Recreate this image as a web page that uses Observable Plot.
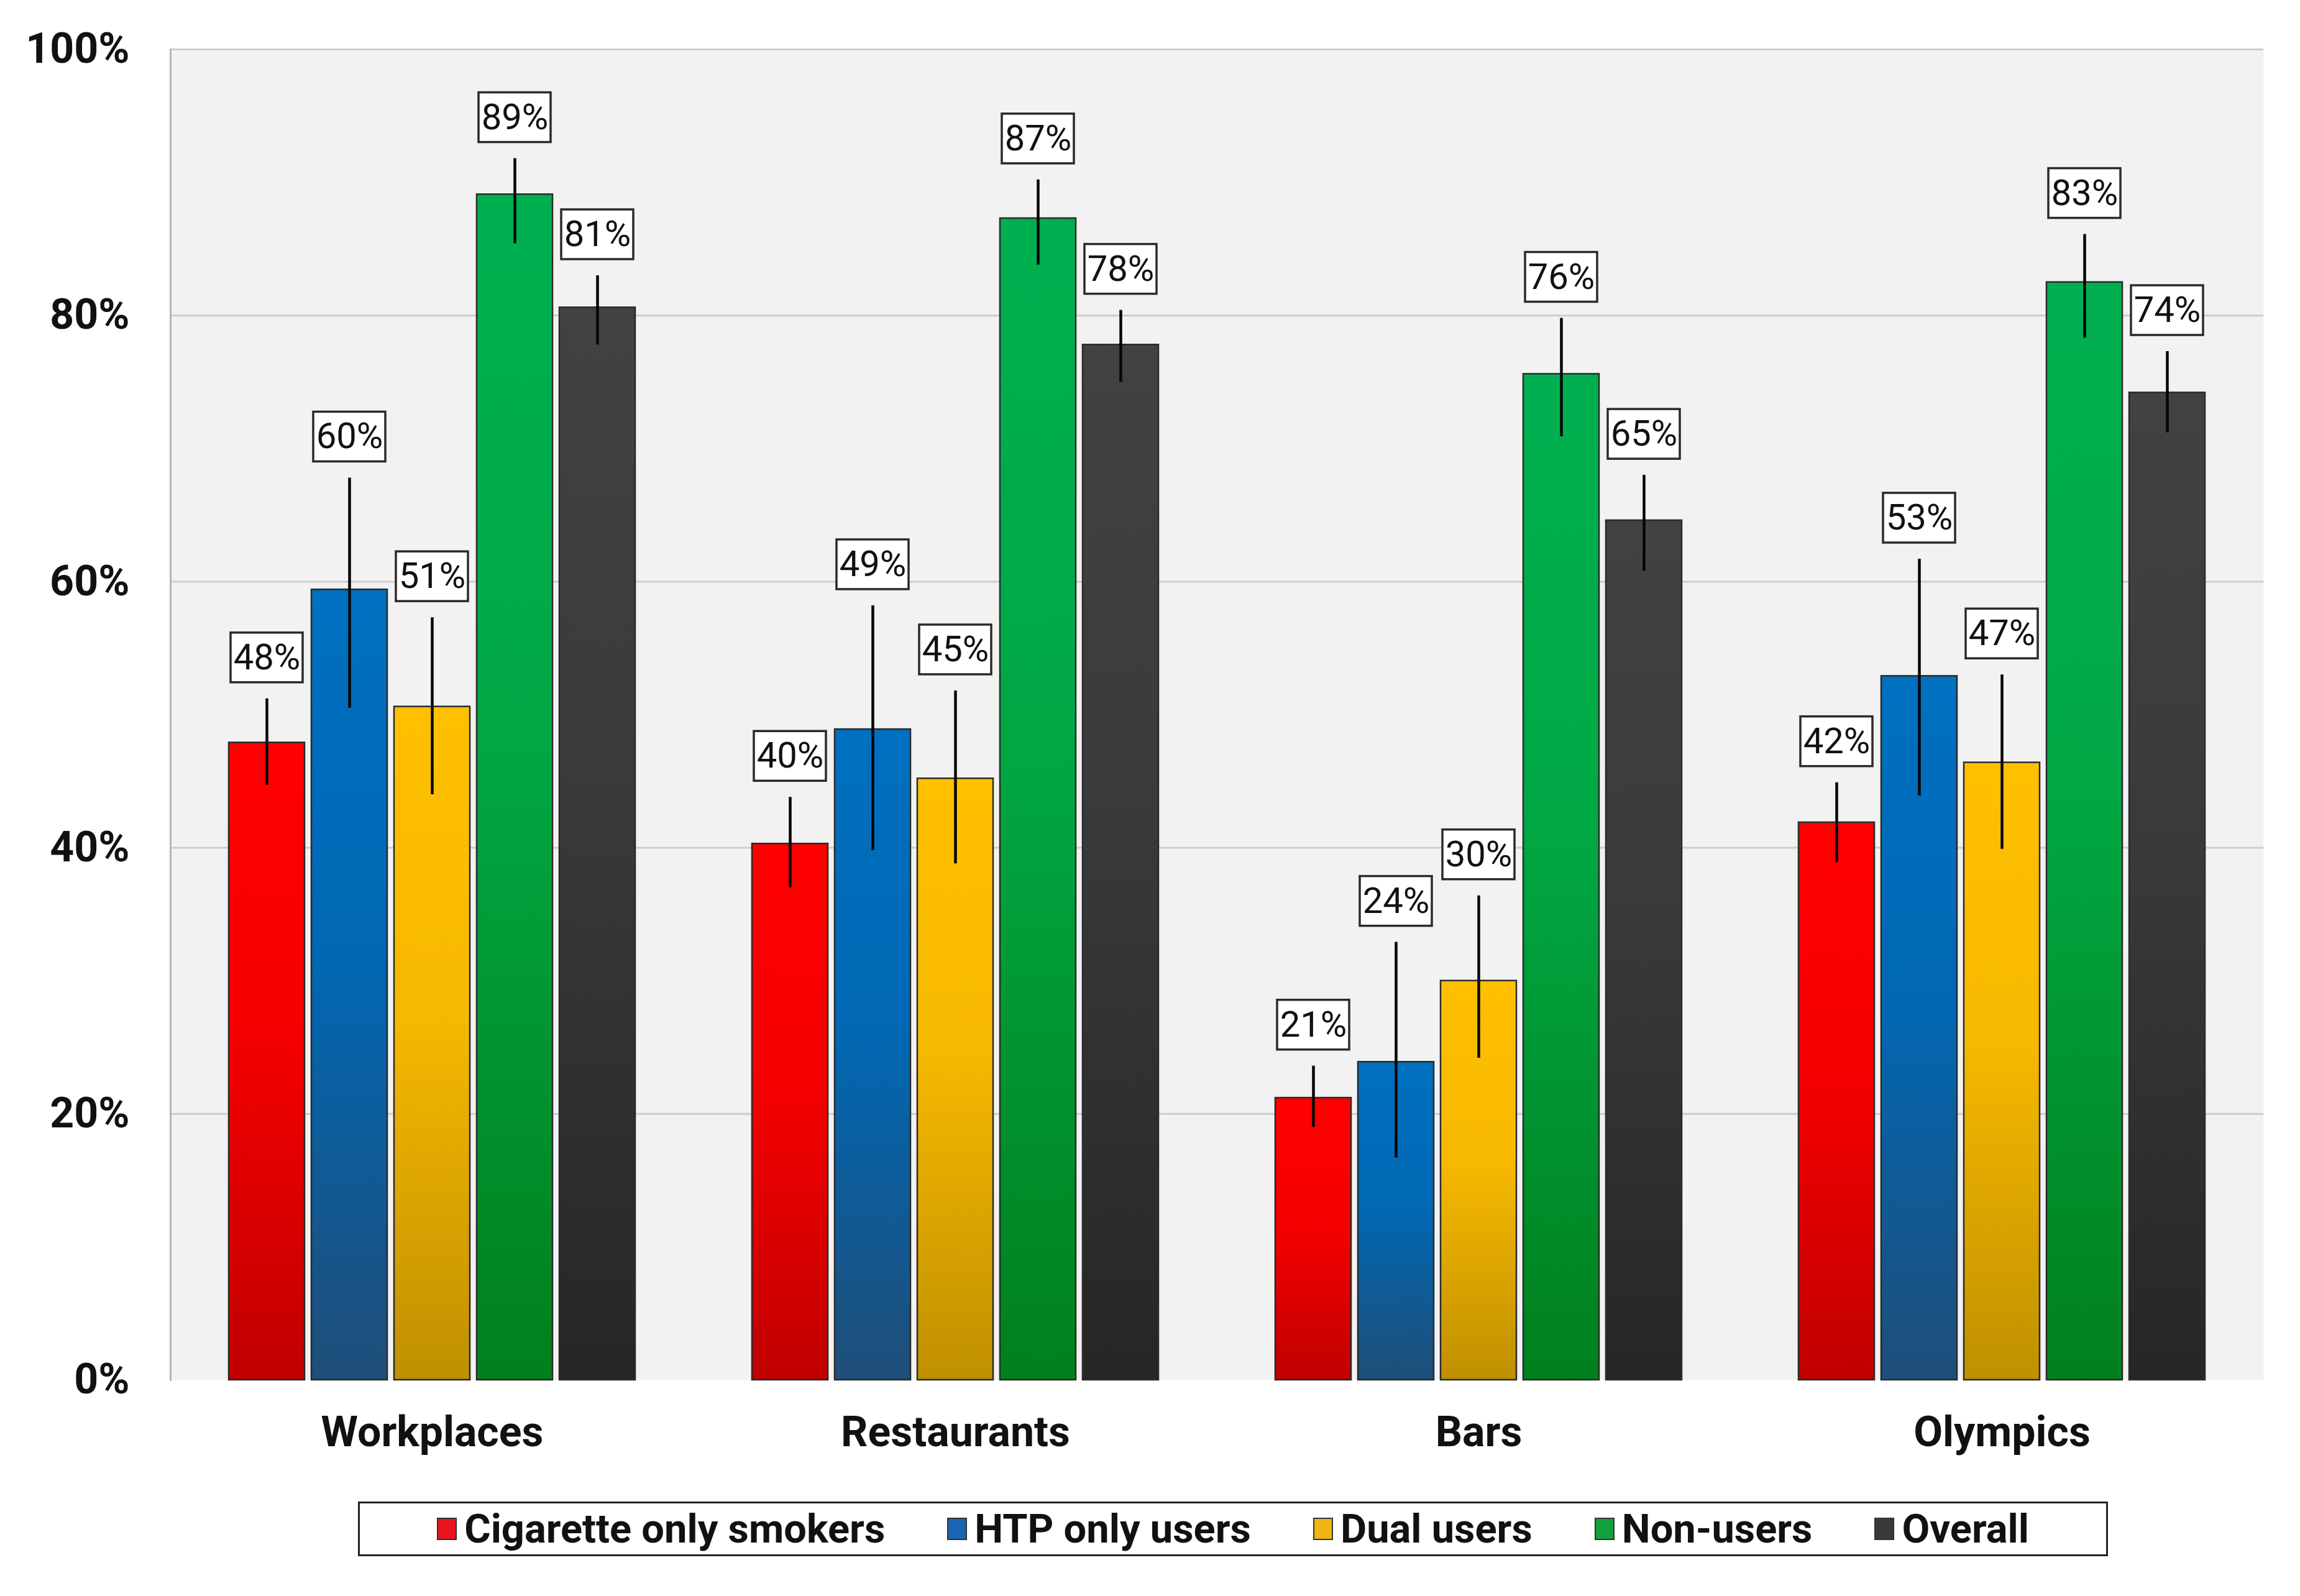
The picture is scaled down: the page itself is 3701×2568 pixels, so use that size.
<!DOCTYPE html>
<html>
<head>
<meta charset="utf-8">
<script src="https://cdn.jsdelivr.net/npm/d3@7"></script>
<script src="https://cdn.jsdelivr.net/npm/@observablehq/plot@0.6"></script>
<style>
  html, body { margin: 0; padding: 0; background: #ffffff; }
  #chart svg { display: block; }
  #legend {
    margin-top: 16px;
    margin-left: 576px;
    width: 2816px;
    height: 88px;
    box-sizing: border-box;
    border: 3px solid #222;
    display: flex;
    align-items: center;
    justify-content: center;
    gap: 100px;
    font-family: Roboto, sans-serif;
    font-weight: 700;
    font-size: 65px;
    color: #111;
  }
  .item { display: flex; align-items: center; white-space: nowrap; }
  .sw { width: 32px; height: 36px; box-sizing: border-box; border: 2px solid #333; margin-right: 12px; }
</style>
</head>
<body>
<div id="chart"></div>
<div id="legend"></div>
<script>
const categories = ["Workplaces", "Restaurants", "Bars", "Olympics"];
const series = ["Cigarette only smokers", "HTP only users", "Dual users", "Non-users", "Overall"];

// bar heights (%), one array per series, in category order
const cigaretteValues = [47.9, 40.3, 21.2, 41.9];
const htpValues       = [59.4, 48.9, 23.9, 52.9];
const dualValues      = [50.6, 45.2, 30.0, 46.4];
const nonUserValues   = [89.1, 87.3, 75.6, 82.5];
const overallValues   = [80.6, 77.8, 64.6, 74.2];

// error bar lower ends (%)
const cigaretteLow = [44.7, 37.0, 19.0, 38.9];
const htpLow       = [50.5, 39.8, 16.7, 43.9];
const dualLow      = [44.0, 38.8, 24.2, 39.9];
const nonUserLow   = [85.4, 83.8, 70.9, 78.3];
const overallLow   = [77.8, 75.0, 60.8, 71.2];

// error bar upper ends (%)
const cigaretteHigh = [51.2, 43.8, 23.6, 44.9];
const htpHigh       = [67.8, 58.2, 32.9, 61.7];
const dualHigh      = [57.3, 51.8, 36.4, 53.0];
const nonUserHigh   = [91.8, 90.2, 79.8, 86.1];
const overallHigh   = [83.0, 80.4, 68.0, 77.3];

// printed value labels
const cigaretteLabels = [48, 40, 21, 42];
const htpLabels       = [60, 49, 24, 53];
const dualLabels      = [51, 45, 30, 47];
const nonUserLabels   = [89, 87, 76, 83];
const overallLabels   = [81, 78, 65, 74];

const yTicks = [0, 20, 40, 60, 80, 100];
const gridTicks = [20, 40, 60, 80, 100];

// colours: top, middle, bottom of each bar's gradient
const seriesColors = [
  ["#ff0000", "#f50000", "#c00000"],
  ["#0070c0", "#0068b4", "#1f4e79"],
  ["#ffc000", "#f7b900", "#bf9000"],
  ["#00b050", "#00a844", "#00801c"],
  ["#424242", "#3a3a3a", "#262626"]
];
const legendColors = ["#e8141e", "#1a64b4", "#f0b414", "#14a03c", "#3a3a3a"];

const allValues = [cigaretteValues, htpValues, dualValues, nonUserValues, overallValues];
const allLow = [cigaretteLow, htpLow, dualLow, nonUserLow, overallLow];
const allHigh = [cigaretteHigh, htpHigh, dualHigh, nonUserHigh, overallHigh];
const allLabels = [cigaretteLabels, htpLabels, dualLabels, nonUserLabels, overallLabels];

const data = categories.flatMap((cat, ci) => series.map((s, si) => ({
  cat, series: s,
  value: allValues[si][ci],
  lo: allLow[si][ci],
  hi: allHigh[si][ci],
  label: allLabels[si][ci] + "%"
})));

const gradUrls = series.map((s, i) => `url(#barGrad${i})`);

const chart = Plot.plot({
  width: 3701,
  height: 2400,
  marginTop: 79,
  marginBottom: 180,
  marginLeft: 273,
  marginRight: 59,
  style: { fontFamily: "Roboto, sans-serif", background: "#ffffff", overflow: "visible" },
  fx: { domain: categories, padding: 0, label: null },
  x: { domain: series, paddingInner: 0.082, paddingOuter: 0.684, axis: null },
  y: { domain: [0, 100], label: null },
  color: { domain: series, range: gradUrls },
  marks: [
    Plot.frame({ fill: "#f2f2f2", stroke: "none" }),
    Plot.gridY(gridTicks, { stroke: "#cdcdcd", strokeOpacity: 1, strokeWidth: 3 }),
    Plot.frame({ anchor: "left", stroke: "#b5b5b5", strokeWidth: 3, facetAnchor: "left" }),
    Plot.axisY(yTicks, {
      tickSize: 0, tickPadding: 66, tickFormat: d => d + "%",
      fontSize: 68, fontWeight: "bold", fill: "#111", label: null
    }),
    Plot.axisFx({
      anchor: "bottom", tickSize: 0, tickPadding: 58,
      fontSize: 68, fontWeight: "bold", fill: "#111", label: null
    }),
    Plot.barY(data, {
      fx: "cat", x: "series", y: "value", fill: "series",
      stroke: "#2a2a2a", strokeWidth: 2.5
    }),
    Plot.ruleX(data, {
      fx: "cat", x: "series", y1: "lo", y2: "hi", stroke: "#050505", strokeWidth: 4.5
    }),
    Plot.barY(data, {
      fx: "cat", x: "series", y1: "hi", y2: "hi",
      insetTop: -80, insetLeft: 3, insetRight: 3, dy: -26,
      fill: "#ffffff", stroke: "#2a2a2a", strokeWidth: 3.5
    }),
    Plot.text(data, {
      fx: "cat", x: "series", y: "hi", text: "label",
      dy: -66, fontSize: 58, fill: "#111"
    })
  ]
});

// gradient definitions for the bars
const ns = "http://www.w3.org/2000/svg";
const defs = document.createElementNS(ns, "defs");
seriesColors.forEach((cols, i) => {
  const g = document.createElementNS(ns, "linearGradient");
  g.setAttribute("id", `barGrad${i}`);
  g.setAttribute("x1", "0"); g.setAttribute("y1", "0");
  g.setAttribute("x2", "0"); g.setAttribute("y2", "1");
  [[0, cols[0]], [0.45, cols[1]], [1, cols[2]]].forEach(([o, c]) => {
    const st = document.createElementNS(ns, "stop");
    st.setAttribute("offset", o);
    st.setAttribute("stop-color", c);
    g.appendChild(st);
  });
  defs.appendChild(g);
});
chart.insertBefore(defs, chart.firstChild);

document.getElementById("chart").appendChild(chart);

// legend below the chart
const legend = document.getElementById("legend");
series.forEach((s, i) => {
  const item = document.createElement("div");
  item.className = "item";
  const sw = document.createElement("div");
  sw.className = "sw";
  sw.style.background = legendColors[i];
  const label = document.createElement("span");
  label.textContent = s;
  item.appendChild(sw);
  item.appendChild(label);
  legend.appendChild(item);
});
</script>
</body>
</html>
